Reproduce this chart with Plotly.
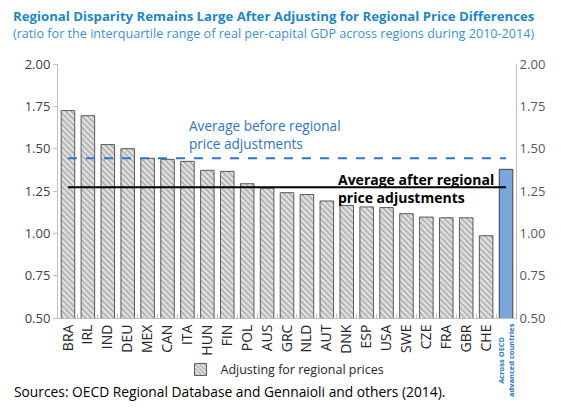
import plotly.graph_objects as go

categories = ["BRA", "IRL", "IND", "DEU", "MEX", "CAN", "ITA", "HUN", "FIN", "POL", "AUS",
              "GRC", "NLD", "AUT", "DNK", "ESP", "USA", "SWE", "CZE", "FRA", "GBR", "CHE"]
values = [1.725, 1.695, 1.524, 1.50, 1.443, 1.437, 1.425, 1.372, 1.366, 1.293, 1.267,
          1.24, 1.229, 1.191, 1.165, 1.156, 1.152, 1.116, 1.096, 1.092, 1.092, 0.986]
oecd_category = "OECD"
oecd_value = 1.378
avg_before = 1.443
avg_after = 1.272
y_ticks = [0.5, 0.75, 1.0, 1.25, 1.5, 1.75, 2.0]
y_tick_labels = ["0.50", "0.75", "1.00", "1.25", "1.50", "1.75", "2.00"]

all_cats = categories + [oecd_category]
FONT = "Open Sans"

# page offset (body margin) compensation
OFF = 8
L, T, R, B = 58 - OFF, 64 - OFF, 45 + OFF, 90 + OFF
PW = 561 - L - R
PH = 408 - T - B


def px_x(xpix):
    return (xpix - OFF - L) / PW


fig = go.Figure()
fig.add_trace(go.Bar(
    x=categories, y=values, name="Adjusting for regional prices",
    width=0.68,
    marker=dict(color="#d9d9d9",
                line=dict(color="#595959", width=1),
                pattern=dict(shape="\\", fgcolor="#7a7a7a", bgcolor="#e3e3e3", size=4, solidity=0.45)),
    showlegend=True,
))
fig.add_trace(go.Bar(
    x=[oecd_category], y=[oecd_value], name="OECD",
    width=0.68,
    marker=dict(color="#7aa6dc", line=dict(color="#404040", width=1)),
    showlegend=False,
))
fig.add_trace(go.Scatter(
    x=[all_cats[0], all_cats[-1]], y=[avg_before, avg_before], mode="lines",
    line=dict(color="#2e75c8", width=2, dash="dash"), showlegend=False, hoverinfo="skip",
))
fig.add_trace(go.Scatter(
    x=[all_cats[0], all_cats[-1]], y=[avg_after, avg_after], mode="lines",
    line=dict(color="#000000", width=2), showlegend=False, hoverinfo="skip",
))
fig.add_trace(go.Scatter(x=[all_cats[0]], y=[None], yaxis="y2", showlegend=False, hoverinfo="skip"))

fig.update_layout(
    width=561, height=408,
    margin=dict(l=L, r=R, t=T, b=B, autoexpand=False),
    paper_bgcolor="white", plot_bgcolor="white",
    font=dict(family=FONT, color="#404040"),
    barmode="overlay",
    xaxis=dict(
        categoryorder="array", categoryarray=all_cats,
        tickmode="array", tickvals=all_cats, ticktext=categories + [""],
        tickangle=-90, tickfont=dict(size=14, color="#262626", family=FONT),
        showline=True, linecolor="#bfbfbf", linewidth=1,
        ticks="inside", tickson="boundaries", ticklen=4, tickcolor="#bfbfbf",
        showgrid=False, range=[-0.5, len(all_cats) - 0.5], automargin=False,
    ),
    yaxis=dict(
        range=[0.5, 2.0], tickvals=y_ticks, ticktext=y_tick_labels,
        tickfont=dict(size=13, color="#404040", family=FONT),
        showline=True, linecolor="#bfbfbf", linewidth=1,
        ticks="outside", ticklen=4, tickcolor="#bfbfbf",
        showgrid=False, zeroline=False, automargin=False,
    ),
    yaxis2=dict(
        range=[0.5, 2.0], tickvals=y_ticks, ticktext=y_tick_labels,
        overlaying="y", side="right",
        tickfont=dict(size=13, color="#595959", family=FONT),
        showline=True, linecolor="#bfbfbf", linewidth=1,
        ticks="", showgrid=False, zeroline=False, automargin=False,
    ),
    legend=dict(orientation="h", x=px_x(285), xanchor="center", y=-0.145, yanchor="top",
                font=dict(size=12.5, color="#262626", family=FONT),
                bgcolor="rgba(0,0,0,0)", itemwidth=30),
)

fig.add_annotation(
    text="<b>Regional Disparity Remains Large After Adjusting for Regional Price Differences</b>",
    xref="paper", yref="paper", x=px_x(11), xanchor="left", y=1.0, yanchor="bottom",
    yshift=37, showarrow=False, font=dict(size=13.2, color="#1b88c7", family=FONT),
)
fig.add_annotation(
    text="(ratio for the interquartile range of real per-capital GDP across regions during 2010-2014)",
    xref="paper", yref="paper", x=px_x(11), xanchor="left", y=1.0, yanchor="bottom",
    yshift=20, showarrow=False, font=dict(size=12.6, color="#3a93cf", family=FONT),
)
fig.add_annotation(
    text="Average before regional<br>price adjustments",
    xref="paper", yref="y", x=px_x(187), xanchor="left", y=1.585, yanchor="middle",
    showarrow=False, align="left", font=dict(size=13.6, color="#2e75c8", family=FONT),
)
fig.add_annotation(
    text="<b>Average after regional<br>price adjustments</b>",
    xref="paper", yref="y", x=px_x(336), xanchor="left", y=1.266, yanchor="middle",
    showarrow=False, align="left", font=dict(size=14, color="#000000", family=FONT),
)
fig.add_annotation(
    text="<b>Across OECD<br>advanced countries</b>",
    xref="x", yref="paper", x=oecd_category, y=0, yanchor="top", xanchor="center",
    yshift=-3, textangle=-90, showarrow=False, align="center",
    font=dict(size=7.5, color="#2e75c8", family=FONT),
)
fig.add_annotation(
    text="Sources: OECD Regional Database and Gennaioli and others (2014).",
    xref="paper", yref="paper", x=px_x(12), xanchor="left", y=0, yanchor="top",
    yshift=-62, showarrow=False, font=dict(size=13.8, color="#000000", family=FONT),
)

fig.write_html("out.html")
